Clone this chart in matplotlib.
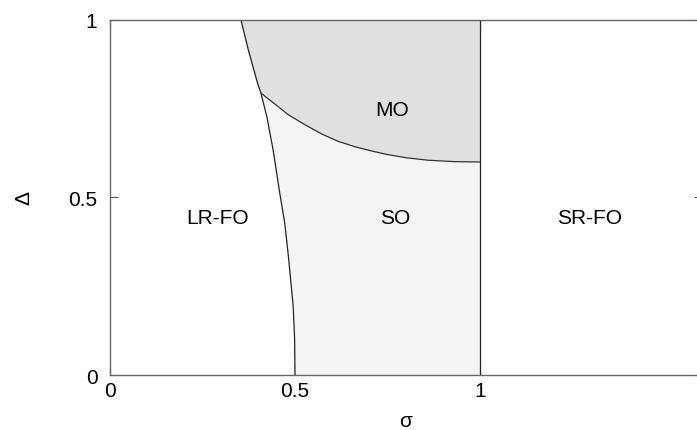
import matplotlib
matplotlib.use('Agg')
import matplotlib.pyplot as plt

plt.rcParams['font.family'] = ['Liberation Sans', 'DejaVu Sans']

# boundary LR-FO / SO (and LR-FO / MO above the kink), bottom to top
left_x = [0.500, 0.499, 0.495, 0.482, 0.472, 0.459, 0.441, 0.424, 0.408, 0.399, 0.374, 0.354]
left_y = [0.000, 0.101, 0.195, 0.336, 0.430, 0.511, 0.633, 0.727, 0.794, 0.821, 0.915, 1.000]
kink = 8  # index of the triple point

# boundary SO / MO, from the triple point to sigma = 1
mo_x = [0.408, 0.446, 0.482, 0.527, 0.572, 0.617, 0.662, 0.707, 0.750, 0.800, 0.860, 0.930, 1.000]
mo_y = [0.794, 0.763, 0.733, 0.705, 0.679, 0.658, 0.643, 0.631, 0.621, 0.612, 0.605, 0.601, 0.600]

sigma_c = 1.0

labels = ['LR-FO', 'SO', 'MO', 'SR-FO']
label_x = [0.292, 0.770, 0.762, 1.297]
label_y = [0.445, 0.445, 0.749, 0.445]

fig = plt.figure(figsize=(6.97, 4.31), dpi=100)
ax = fig.add_axes([0.1578, 0.1276, 0.8494, 0.8237])

# SO region
so_x = left_x[:kink + 1] + mo_x[1:] + [sigma_c]
so_y = left_y[:kink + 1] + mo_y[1:] + [0.0]
ax.fill(so_x, so_y, color='#f4f4f4', lw=0, zorder=1)

# MO region
top_x = left_x[kink:][::-1]
top_y = left_y[kink:][::-1]
ax.fill(mo_x + [sigma_c] + top_x, mo_y + [1.0] + top_y, color='#e0e0e0', lw=0, zorder=1)

ax.plot(left_x, left_y, color='#222222', lw=0.9, zorder=2)
ax.plot(mo_x, mo_y, color='#333333', lw=0.9, zorder=2)
ax.plot([sigma_c, sigma_c], [0, 1], color='#222222', lw=0.9, zorder=2)

for t, x, y in zip(labels, label_x, label_y):
    ax.text(x, y, t, ha='center', va='center', fontsize=15)

ax.set_xlim(0, 1.6)
ax.set_ylim(0, 1)
ax.set_xticks([0, 0.5, 1])
ax.set_xticklabels(['0', '0.5', '1'])
ax.set_yticks([0, 0.5, 1])
ax.set_yticklabels(['0', '0.5', '1'])
ax.set_axisbelow(True)
ax.tick_params(direction='in', length=6, width=0.8, color='#555555',
               labelsize=15, right=True, top=True)
ax.tick_params(axis='x', pad=4)
ax.tick_params(axis='y', pad=9)
for s in ax.spines.values():
    s.set_color('#666666')
    s.set_linewidth(1.0)

ax.set_xlabel('σ', fontsize=15)
ax.set_ylabel('Δ', fontsize=15)
ax.xaxis.set_label_coords(0.5, -0.10)
ax.yaxis.set_label_coords(-0.13, 0.5)

fig.savefig('out.png', dpi=100)
